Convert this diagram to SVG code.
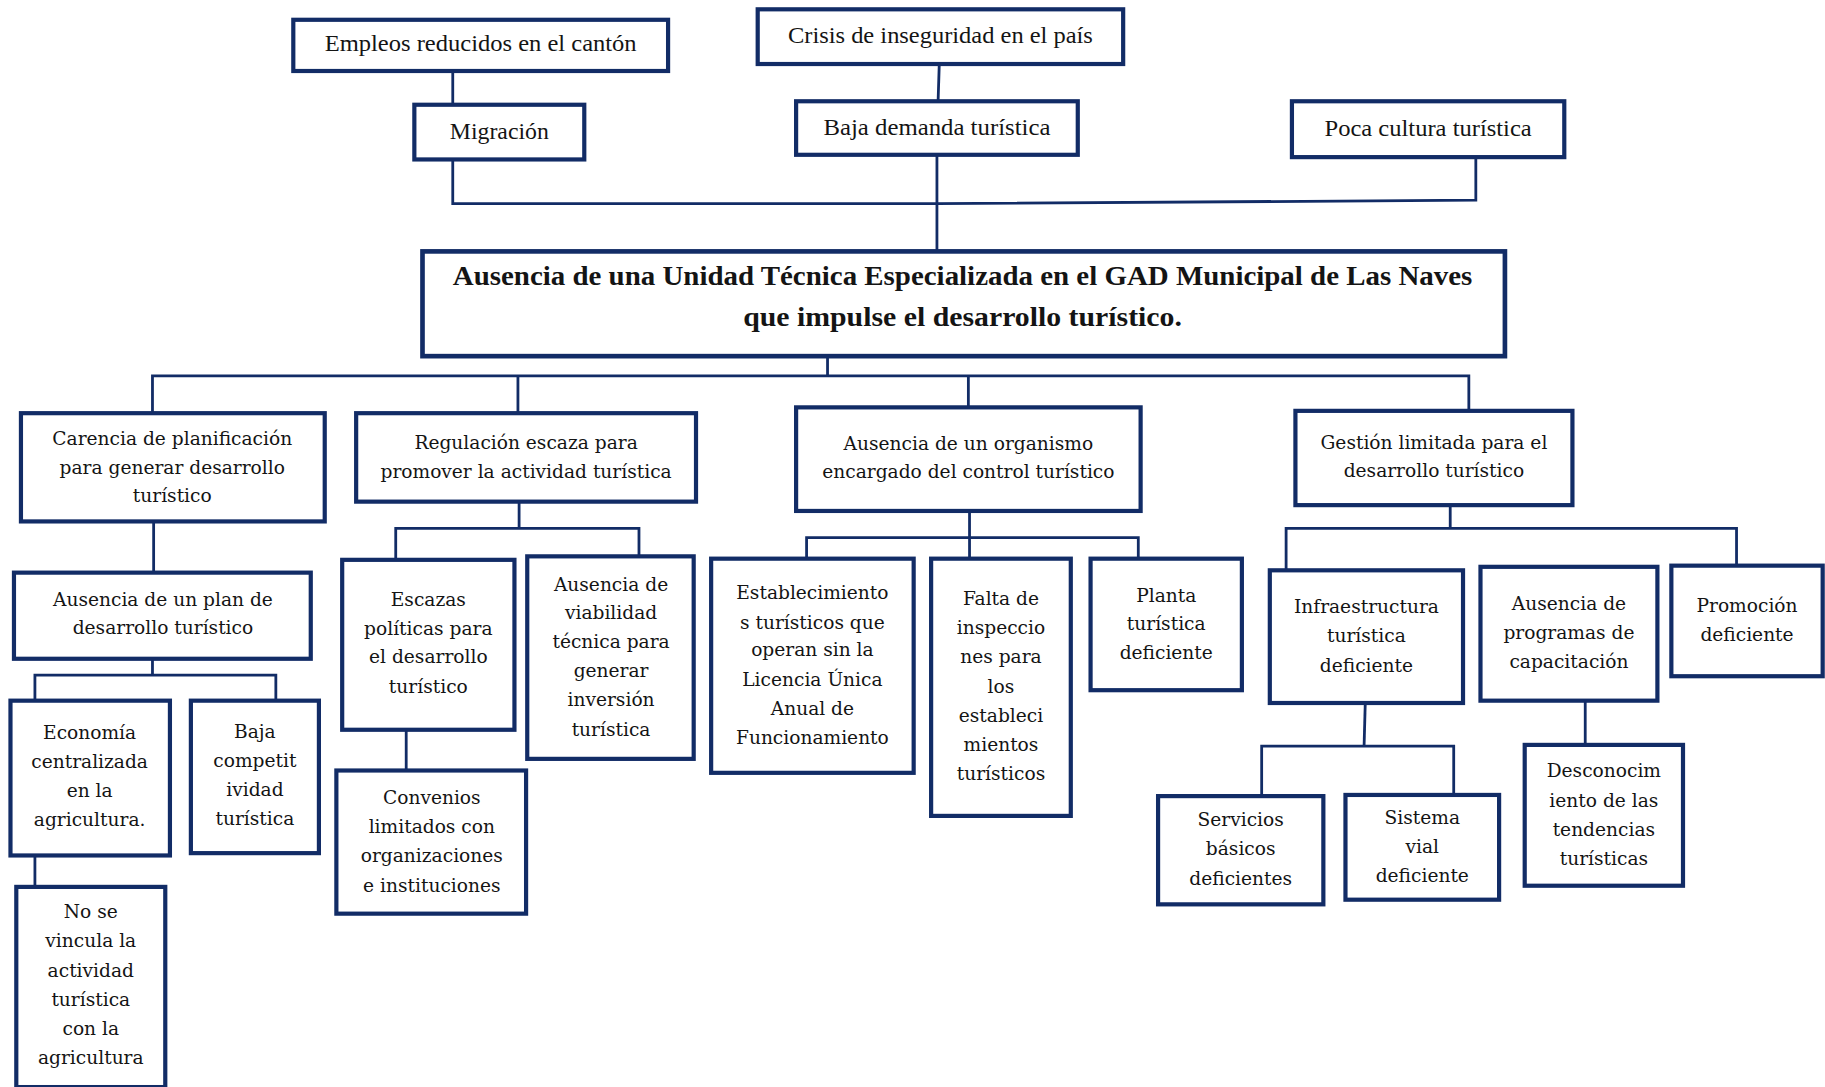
<svg xmlns="http://www.w3.org/2000/svg" width="1825" height="1087" viewBox="0 0 1825 1087">
<style>
.box{fill:#fff;stroke:#122c66;stroke-width:3.6}
.ln{fill:none;stroke:#122c66;stroke-width:2.4}
.t{font-family:"DejaVu Serif","Liberation Serif",serif;font-size:16px;text-anchor:middle;fill:#141414}
.h{font-family:"Liberation Serif","DejaVu Serif",serif;font-size:19px;text-anchor:middle;fill:#141414}
.b{font-family:"Liberation Serif","DejaVu Serif",serif;font-size:23px;font-weight:bold;text-anchor:middle;fill:#141414}
</style>
<rect width="1825" height="1087" fill="#fff"/>
<g transform="scale(1.16390)">
<g id="connectors">
<path class="ln" d="M389 61V90"/>
<path class="ln" d="M807 55L806 87"/>
<path class="ln" d="M389 137V175H805L1268 172V135"/>
<path class="ln" d="M805 133V216"/>
<path class="ln" d="M711 306V323"/>
<path class="ln" d="M131 355V323H1262V352"/>
<path class="ln" d="M445 323V355"/>
<path class="ln" d="M832 323V350"/>
<path class="ln" d="M132 448V492"/>
<path class="ln" d="M131 566V580"/>
<path class="ln" d="M30 602V580H237V602"/>
<path class="ln" d="M30 735V762"/>
<path class="ln" d="M446 431V454"/>
<path class="ln" d="M340 481V454H549V478"/>
<path class="ln" d="M349 627V662"/>
<path class="ln" d="M833 439V480"/>
<path class="ln" d="M693 480V462H978V480"/>
<path class="ln" d="M1246 434V454"/>
<path class="ln" d="M1105 490V454H1492V486"/>
<path class="ln" d="M1173 604L1172 641"/>
<path class="ln" d="M1084 684V641H1249V683"/>
<path class="ln" d="M1362 602V640"/>
</g>
<g id="n-empleos"><rect class="box" x="252" y="17" width="322" height="44"/><text class="h" x="413" y="44" textLength="268" lengthAdjust="spacingAndGlyphs">Empleos reducidos en el cantón</text></g>
<g id="n-crisis"><rect class="box" x="651" y="8" width="314" height="47"/><text class="h" x="808" y="37" textLength="262" lengthAdjust="spacingAndGlyphs">Crisis de inseguridad en el país</text></g>
<g id="n-migracion"><rect class="box" x="356" y="90" width="146" height="47"/><text class="h" x="429" y="119" textLength="85" lengthAdjust="spacingAndGlyphs">Migración</text></g>
<g id="n-baja-demanda"><rect class="box" x="684" y="87" width="242" height="46"/><text class="h" x="805" y="116" textLength="195" lengthAdjust="spacingAndGlyphs">Baja demanda turística</text></g>
<g id="n-poca-cultura"><rect class="box" x="1110" y="87" width="234" height="48"/><text class="h" x="1227" y="117" textLength="178" lengthAdjust="spacingAndGlyphs">Poca cultura turística</text></g>
<g id="n-main"><rect class="box" x="363" y="216" width="930" height="90" style="stroke-width:4"/>
<text class="b" x="827" y="245" textLength="876" lengthAdjust="spacingAndGlyphs">Ausencia de una Unidad Técnica Especializada en el GAD Municipal de Las Naves</text>
<text class="b" x="827" y="280" textLength="377" lengthAdjust="spacingAndGlyphs">que impulse el desarrollo turístico.</text></g>
<g id="n-carencia"><rect class="box" x="18" y="355" width="261" height="93"/><text class="t" x="148"><tspan x="148" y="382">Carencia de planificación</tspan><tspan x="148" y="407">para generar desarrollo</tspan><tspan x="148" y="431">turístico</tspan></text></g>
<g id="n-regulacion"><rect class="box" x="306" y="355" width="292" height="76"/><text class="t" x="452"><tspan x="452" y="386">Regulación escaza para</tspan><tspan x="452" y="411">promover la actividad turística</tspan></text></g>
<g id="n-organismo"><rect class="box" x="684" y="350" width="296" height="89"/><text class="t" x="832"><tspan x="832" y="387">Ausencia de un organismo</tspan><tspan x="832" y="411">encargado del control turístico</tspan></text></g>
<g id="n-gestion"><rect class="box" x="1113" y="353" width="238" height="81"/><text class="t" x="1232"><tspan x="1232" y="386">Gestión limitada para el</tspan><tspan x="1232" y="410">desarrollo turístico</tspan></text></g>
<g id="n-plan"><rect class="box" x="12" y="492" width="255" height="74"/><text class="t" x="140"><tspan x="140" y="521">Ausencia de un plan de</tspan><tspan x="140" y="545">desarrollo turístico</tspan></text></g>
<g id="n-economia"><rect class="box" x="9" y="602" width="137" height="133"/><text class="t" x="77"><tspan x="77" y="635">Economía</tspan><tspan x="77" y="660">centralizada</tspan><tspan x="77" y="685">en la</tspan><tspan x="77" y="710">agricultura.</tspan></text></g>
<g id="n-competitividad"><rect class="box" x="164" y="602" width="110" height="131"/><text class="t" x="219"><tspan x="219" y="634">Baja</tspan><tspan x="219" y="659">competit</tspan><tspan x="219" y="684">ividad</tspan><tspan x="219" y="709">turística</tspan></text></g>
<g id="n-vincula"><rect class="box" x="14" y="762" width="128" height="172"/><text class="t" x="78"><tspan x="78" y="789">No se</tspan><tspan x="78" y="814">vincula la</tspan><tspan x="78" y="839">actividad</tspan><tspan x="78" y="864">turística</tspan><tspan x="78" y="889">con la</tspan><tspan x="78" y="914">agricultura</tspan></text></g>
<g id="n-escazas"><rect class="box" x="294" y="481" width="148" height="146"/><text class="t" x="368"><tspan x="368" y="521">Escazas</tspan><tspan x="368" y="546">políticas para</tspan><tspan x="368" y="570">el desarrollo</tspan><tspan x="368" y="595">turístico</tspan></text></g>
<g id="n-viabilidad"><rect class="box" x="453" y="478" width="143" height="174"/><text class="t" x="525"><tspan x="525" y="508">Ausencia de</tspan><tspan x="525" y="532">viabilidad</tspan><tspan x="525" y="557">técnica para</tspan><tspan x="525" y="582">generar</tspan><tspan x="525" y="607">inversión</tspan><tspan x="525" y="632">turística</tspan></text></g>
<g id="n-convenios"><rect class="box" x="289" y="662" width="163" height="123"/><text class="t" x="371"><tspan x="371" y="691">Convenios</tspan><tspan x="371" y="716">limitados con</tspan><tspan x="371" y="741">organizaciones</tspan><tspan x="371" y="766">e instituciones</tspan></text></g>
<g id="n-establecimientos"><rect class="box" x="611" y="480" width="174" height="184"/><text class="t" x="698"><tspan x="698" y="515">Establecimiento</tspan><tspan x="698" y="540">s turísticos que</tspan><tspan x="698" y="564">operan sin la</tspan><tspan x="698" y="589">Licencia Única</tspan><tspan x="698" y="614">Anual de</tspan><tspan x="698" y="639">Funcionamiento</tspan></text></g>
<g id="n-inspecciones"><rect class="box" x="800" y="480" width="120" height="221"/><text class="t" x="860"><tspan x="860" y="520">Falta de</tspan><tspan x="860" y="545">inspeccio</tspan><tspan x="860" y="570">nes para</tspan><tspan x="860" y="595">los</tspan><tspan x="860" y="620">estableci</tspan><tspan x="860" y="645">mientos</tspan><tspan x="860" y="670">turísticos</tspan></text></g>
<g id="n-planta"><rect class="box" x="937" y="480" width="130" height="113"/><text class="t" x="1002"><tspan x="1002" y="517">Planta</tspan><tspan x="1002" y="541">turística</tspan><tspan x="1002" y="566">deficiente</tspan></text></g>
<g id="n-infraestructura"><rect class="box" x="1091" y="490" width="166" height="114"/><text class="t" x="1174"><tspan x="1174" y="527">Infraestructura</tspan><tspan x="1174" y="552">turística</tspan><tspan x="1174" y="577">deficiente</tspan></text></g>
<g id="n-capacitacion"><rect class="box" x="1272" y="487" width="152" height="115"/><text class="t" x="1348"><tspan x="1348" y="524">Ausencia de</tspan><tspan x="1348" y="549">programas de</tspan><tspan x="1348" y="574">capacitación</tspan></text></g>
<g id="n-promocion"><rect class="box" x="1436" y="486" width="130" height="95"/><text class="t" x="1501"><tspan x="1501" y="526">Promoción</tspan><tspan x="1501" y="551">deficiente</tspan></text></g>
<g id="n-servicios"><rect class="box" x="995" y="684" width="142" height="93"/><text class="t" x="1066"><tspan x="1066" y="710">Servicios</tspan><tspan x="1066" y="735">básicos</tspan><tspan x="1066" y="760">deficientes</tspan></text></g>
<g id="n-vial"><rect class="box" x="1156" y="683" width="132" height="90"/><text class="t" x="1222"><tspan x="1222" y="708">Sistema</tspan><tspan x="1222" y="733">vial</tspan><tspan x="1222" y="758">deficiente</tspan></text></g>
<g id="n-tendencias"><rect class="box" x="1310" y="640" width="136" height="121"/><text class="t" x="1378"><tspan x="1378" y="668">Desconocim</tspan><tspan x="1378" y="693">iento de las</tspan><tspan x="1378" y="718">tendencias</tspan><tspan x="1378" y="743">turísticas</tspan></text></g>
</g>
</svg>
